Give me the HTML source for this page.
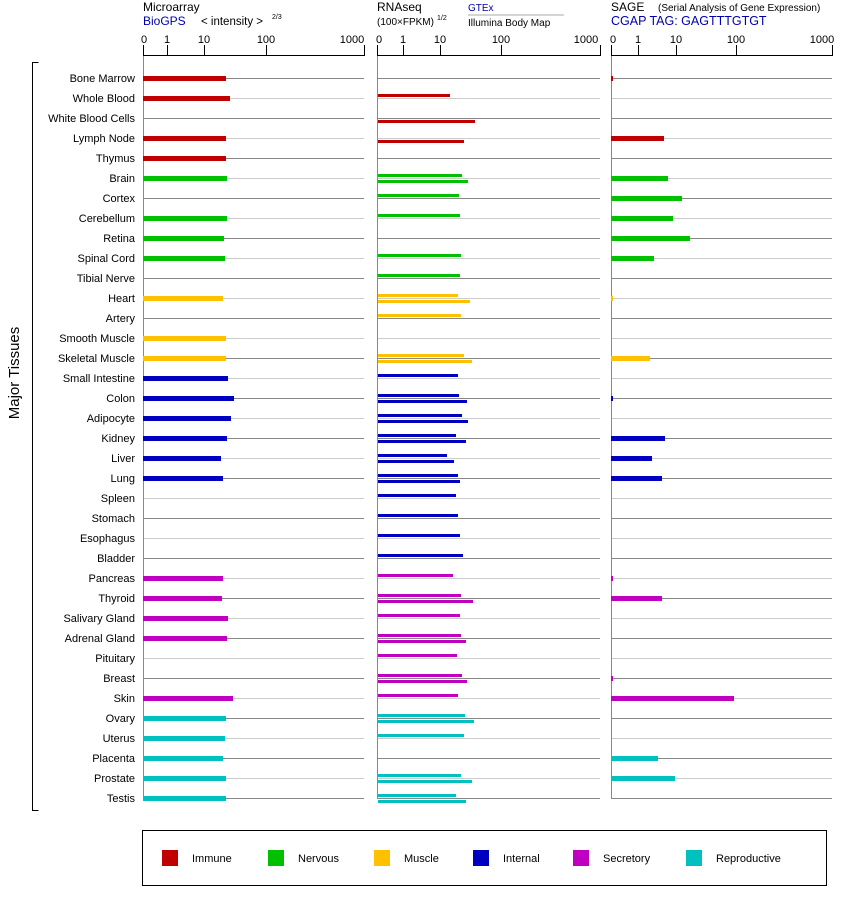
<!DOCTYPE html>
<html><head><meta charset="utf-8"><style>
html,body{margin:0;padding:0;background:#fff;}
svg{display:block;font-family:"Liberation Sans",Arial,sans-serif;}
</style></head><body>
<svg id="s" width="842" height="900" viewBox="0 0 842 900" xmlns="http://www.w3.org/2000/svg">
<g font-size="12" fill="#000">
<text x="143" y="11">Microarray</text>
<text x="143" y="25" fill="#00a">BioGPS</text>
<text x="201" y="25" font-size="11.5">&lt; intensity &gt;</text>
<text x="272" y="19" font-size="7">2/3</text>
<text x="377" y="11">RNAseq</text>
<text x="377" y="25" font-size="10">(100×FPKM)</text>
<text x="437" y="20" font-size="7">1/2</text>
<text x="468" y="11" font-size="10" fill="#00a">GTEx</text>
<line x1="468" y1="15" x2="564" y2="15" stroke="#aaa"/>
<text x="468" y="26" font-size="10">Illumina Body Map</text>
<text x="611" y="11">SAGE</text>
<text x="658" y="11" font-size="10">(Serial Analysis of Gene Expression)</text>
<text x="611" y="25" fill="#00a" font-size="12.5">CGAP TAG: GAGTTTGTGT</text>
</g>
<g font-size="11" text-anchor="middle">
<text x="144" y="43">0</text><text x="167" y="43">1</text><text x="204" y="43">10</text><text x="266" y="43">100</text><text x="352" y="43">1000</text>
<text x="379" y="43">0</text><text x="403" y="43">1</text><text x="440" y="43">10</text><text x="501" y="43">100</text><text x="586" y="43">1000</text>
<text x="613" y="43">0</text><text x="638" y="43">1</text><text x="676" y="43">10</text><text x="736" y="43">100</text><text x="822" y="43">1000</text>
</g>
<g id="axes" stroke="#000" stroke-width="1"></g>
<g id="grid"></g>
<g id="bars"></g>
<g font-size="11" text-anchor="end" fill="#000">
<text x="135" y="82">Bone Marrow</text>
<text x="135" y="102">Whole Blood</text>
<text x="135" y="122">White Blood Cells</text>
<text x="135" y="142">Lymph Node</text>
<text x="135" y="162">Thymus</text>
<text x="135" y="182">Brain</text>
<text x="135" y="202">Cortex</text>
<text x="135" y="222">Cerebellum</text>
<text x="135" y="242">Retina</text>
<text x="135" y="262">Spinal Cord</text>
<text x="135" y="282">Tibial Nerve</text>
<text x="135" y="302">Heart</text>
<text x="135" y="322">Artery</text>
<text x="135" y="342">Smooth Muscle</text>
<text x="135" y="362">Skeletal Muscle</text>
<text x="135" y="382">Small Intestine</text>
<text x="135" y="402">Colon</text>
<text x="135" y="422">Adipocyte</text>
<text x="135" y="442">Kidney</text>
<text x="135" y="462">Liver</text>
<text x="135" y="482">Lung</text>
<text x="135" y="502">Spleen</text>
<text x="135" y="522">Stomach</text>
<text x="135" y="542">Esophagus</text>
<text x="135" y="562">Bladder</text>
<text x="135" y="582">Pancreas</text>
<text x="135" y="602">Thyroid</text>
<text x="135" y="622">Salivary Gland</text>
<text x="135" y="642">Adrenal Gland</text>
<text x="135" y="662">Pituitary</text>
<text x="135" y="682">Breast</text>
<text x="135" y="702">Skin</text>
<text x="135" y="722">Ovary</text>
<text x="135" y="742">Uterus</text>
<text x="135" y="762">Placenta</text>
<text x="135" y="782">Prostate</text>
<text x="135" y="802">Testis</text>
</g>
<text x="19" y="373" font-size="15" text-anchor="middle" transform="rotate(-90 19 373)">Major Tissues</text>
<path d="M38.5 62.5 H32.5 V810.5 H38.5" fill="none" stroke="#000"/>
<rect x="142.5" y="830.5" width="684" height="55" fill="none" stroke="#000"/>
<g font-size="11">
<rect x="162" y="850" width="16" height="16" fill="#c00000"/><text x="192" y="862">Immune</text>
<rect x="268" y="850" width="16" height="16" fill="#00c000"/><text x="298" y="862">Nervous</text>
<rect x="374" y="850" width="16" height="16" fill="#ffc000"/><text x="404" y="862">Muscle</text>
<rect x="473" y="850" width="16" height="16" fill="#0000c0"/><text x="503" y="862">Internal</text>
<rect x="573" y="850" width="16" height="16" fill="#c000c0"/><text x="603" y="862">Secretory</text>
<rect x="686" y="850" width="16" height="16" fill="#00c0c0"/><text x="716" y="862">Reproductive</text>
</g>
</svg>
<script>
var NS="http://www.w3.org/2000/svg";
function el(p,t,a){var e=document.createElementNS(NS,t);for(var k in a)e.setAttribute(k,a[k]);document.getElementById(p).appendChild(e);}
var C={r:"#c00000",g:"#00c000",y:"#ffc000",b:"#0000c0",m:"#c000c0",c:"#00c0c0"};
// axes
var panels=[[143,364,[167,204,266,364]],[377,600,[403,440,501,600]],[611,832,[638,676,736,832]]];
panels.forEach(function(p){
 el("axes","line",{x1:p[0],y1:55.5,x2:p[1],y2:55.5});
 el("axes","line",{x1:p[0]+.5,y1:45,x2:p[0]+.5,y2:56});
 p[2].forEach(function(t){el("axes","line",{x1:t+.5,y1:45,x2:t+.5,y2:56});});
 for(var i=0;i<37;i++){var y=78+i*20;
  el("grid","line",{x1:p[0],y1:y+.5,x2:p[1],y2:y+.5,stroke:i%2?"#ccc":"#888"});}
 el("grid","line",{x1:p[0]+.5,y1:56,x2:p[0]+.5,y2:799,stroke:"#888"});
});
// data: color, micro, gtex, illumina, sage
var D=[
["r",226,0,0,613],["r",230,450,0,0],["r",0,0,475,0],["r",226,0,464,664],["r",226,0,0,0],
["g",227,462,468,668],["g",0,459,0,682],["g",227,460,0,673],["g",224,0,0,690],["g",225,461,0,654],["g",0,460,0,0],
["y",223,458,470,613],["y",0,461,0,0],["y",226,0,0,0],["y",226,464,472,650],
["b",228,458,0,0],["b",234,459,467,613],["b",231,462,468,0],["b",227,456,466,665],["b",221,447,454,652],["b",223,458,460,662],["b",0,456,0,0],["b",0,458,0,0],["b",0,460,0,0],["b",0,463,0,0],
["m",223,453,0,613],["m",222,461,473,662],["m",228,460,0,0],["m",227,461,466,0],["m",0,457,0,0],["m",0,462,467,613],["m",233,458,0,734],
["c",226,465,474,0],["c",225,464,0,0],["c",223,0,0,658],["c",226,461,472,675],["c",226,456,466,0]];
D.forEach(function(d,i){var y=78+i*20,c=C[d[0]];
 if(d[1])el("bars","rect",{x:143,y:y-2,width:d[1]-143,height:5,fill:c});
 if(d[2])el("bars","rect",{x:378,y:y-4,width:d[2]-378,height:3,fill:c});
 if(d[3])el("bars","rect",{x:378,y:y+2,width:d[3]-378,height:3,fill:c});
 if(d[4])el("bars","rect",{x:611,y:y-2,width:d[4]-611,height:5,fill:c});
});
</script>
</body></html>
